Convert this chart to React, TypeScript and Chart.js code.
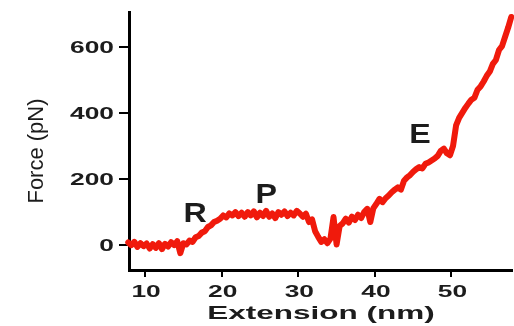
import React, { useEffect, useRef } from "react";
import { Chart, registerables } from "chart.js";

Chart.register(...registerables);

// Extension (nm)
const extension = [
  6.6, 7.0, 7.4, 7.8, 8.2, 8.6, 9.0, 9.4, 9.8, 10.2, 10.6,
  11.0, 11.4, 11.8, 12.2, 12.6, 13.0, 13.4, 13.8, 14.2, 14.6,
  15.0, 15.4, 15.8, 16.2, 16.6, 17.0, 17.4, 17.8, 18.2, 18.6,
  19.0, 19.4, 19.8, 20.2, 20.6, 21.0, 21.4, 21.8, 22.2, 22.6,
  23.0, 23.4, 23.8, 24.2, 24.6, 25.0, 25.4, 25.8, 26.2, 26.6,
  27.0, 27.4, 27.8, 28.2, 28.6, 29.0, 29.4, 29.8, 30.2, 30.6,
  31.0, 31.4, 31.8, 32.2, 32.6, 33.0, 33.4, 33.8, 34.2, 34.6,
  35.0, 35.4, 35.8, 36.2, 36.6, 37.0, 37.4, 37.8, 38.2, 38.6,
  39.0, 39.4, 39.8, 40.2, 40.6, 41.0, 41.4, 41.8, 42.2, 42.6,
  43.0, 43.4, 43.8, 44.2, 44.6, 45.0, 45.4, 45.8, 46.2, 46.6,
  47.0, 47.4, 47.8, 48.2, 48.6, 49.0, 49.4, 49.8, 50.2, 50.6,
  51.0, 51.4, 51.8, 52.2, 52.6, 53.0, 53.4, 53.8, 54.2, 54.6,
  55.0, 55.4, 55.8, 56.2, 56.6, 57.0, 57.4, 57.8,
];

// Force (pN)
const force = [
  6, 2, -4, 8, 0, 10, -5, 6, -3, 5, -10,
  3, -8, 6, -12, 4, -4, 9, 0, 12, -24,
  6, 2, 14, 10, 24, 28, 38, 42, 55, 60,
  70, 74, 80, 90, 84, 96, 90, 100, 88, 98,
  86, 100, 90, 102, 84, 98, 88, 104, 86, 96,
  82, 100, 92, 102, 88, 98, 90, 104, 96, 86,
  95, 70, 78, 42, 25, 10, 18, 6, 20, 85,
  2, 58, 66, 80, 68, 86, 76, 92, 82, 100,
  110, 70, 112, 125, 140, 130, 142, 150, 160, 168,
  175, 168, 195, 205, 212, 222, 230, 236, 232, 246,
  250, 256, 262, 270, 285, 292, 278, 272, 300, 362,
  385, 400, 415, 428, 440, 446, 470, 480, 495, 512,
  525, 548, 560, 590, 602, 630, 658, 690,
];

const xTicks = [10, 20, 30, 40, 50];
const yTicks = [0, 200, 400, 600];

const annotations = [
  { text: "R", x: 15.0, y: 70 },
  { text: "P", x: 24.4, y: 128 },
  { text: "E", x: 44.5, y: 310 },
];

const xTitle = "Extension (nm)";
const yTitle = "Force (pN)";

const TEXT = "#1c1c1c";

function stretchedText(
  ctx: CanvasRenderingContext2D,
  text: string,
  x: number,
  y: number,
  sx: number,
  align: CanvasTextAlign
) {
  ctx.save();
  ctx.translate(x, y);
  ctx.scale(sx, 1);
  ctx.textAlign = align;
  ctx.textBaseline = "alphabetic";
  ctx.fillText(text, 0, 0);
  ctx.restore();
}

const textPlugin = {
  id: "textPlugin",
  afterDraw(chart: any) {
    const ctx: CanvasRenderingContext2D = chart.ctx;
    const xs = chart.scales.x;
    const ys = chart.scales.y;
    ctx.save();
    ctx.fillStyle = TEXT;

    // tick labels
    ctx.font = 'bold 17px "Liberation Sans", Arial, sans-serif';
    for (const v of yTicks) {
      const py = ys.getPixelForValue(v);
      stretchedText(ctx, String(v), xs.left - 15, py + 6, 1.55, "right");
    }
    for (const v of xTicks) {
      const px = xs.getPixelForValue(v);
      stretchedText(ctx, String(v), px + 1, ys.bottom + 27, 1.55, "center");
    }

    // x title
    ctx.font = 'bold 18px "Liberation Sans", Arial, sans-serif';
    stretchedText(ctx, xTitle, 321, 319, 1.75, "center");

    // y title
    ctx.save();
    ctx.font = '22px "Liberation Sans", Arial, sans-serif';
    ctx.translate(37.5, 151);
    ctx.rotate(-Math.PI / 2);
    ctx.textAlign = "center";
    ctx.textBaseline = "alphabetic";
    ctx.fillText(yTitle, 0, 5.7);
    ctx.restore();

    // annotations
    ctx.font = 'bold 28px "Liberation Sans", Arial, sans-serif';
    for (const a of annotations) {
      const px = xs.getPixelForValue(a.x);
      const py = ys.getPixelForValue(a.y);
      stretchedText(ctx, a.text, px, py, 1.15, "left");
    }
    ctx.restore();
  },
};

export default function App() {
  const ref = useRef<HTMLCanvasElement | null>(null);

  useEffect(() => {
    if (!ref.current) return;
    const chart = new Chart(ref.current, {
      type: "line",
      data: {
        datasets: [
          {
            data: extension.map((x, i) => ({ x, y: force[i] })),
            borderColor: "#f01a0c",
            borderWidth: 6,
            borderJoinStyle: "round",
            borderCapStyle: "round",
            pointRadius: 0,
            tension: 0,
            clip: false,
          } as any,
        ],
      },
      options: {
        animation: false,
        responsive: false,
        maintainAspectRatio: false,
        layout: { padding: { top: 12, right: 2, left: 0, bottom: 0 } },
        plugins: {
          legend: { display: false },
          tooltip: { enabled: false },
          title: { display: false },
        },
        scales: {
          x: {
            type: "linear",
            min: 7.9,
            max: 57.9,
            afterBuildTicks: (s: any) => {
              s.ticks = xTicks.map((v) => ({ value: v }));
            },
            afterFit: (s: any) => {
              s.height = 56;
            },
            grid: {
              drawOnChartArea: false,
              drawTicks: true,
              tickLength: 7,
              color: "#000",
              lineWidth: 2,
            },
            border: { display: true, color: "#000", width: 3 },
            ticks: { display: false },
          },
          y: {
            type: "linear",
            min: -75,
            max: 705,
            afterBuildTicks: (s: any) => {
              s.ticks = yTicks.map((v) => ({ value: v }));
            },
            afterFit: (s: any) => {
              s.width = 129;
            },
            grid: {
              drawOnChartArea: false,
              drawTicks: true,
              tickLength: 10,
              color: "#000",
              lineWidth: 2,
            },
            border: { display: true, color: "#000", width: 3 },
            ticks: { display: false },
          },
        },
      } as any,
      plugins: [textPlugin],
    });
    return () => chart.destroy();
  }, []);

  return (
    <div style={{ position: "fixed", left: 0, top: 0, width: 514, height: 326, background: "#fff" }}>
      <canvas ref={ref} width={514} height={326} style={{ display: "block" }} />
    </div>
  );
}
